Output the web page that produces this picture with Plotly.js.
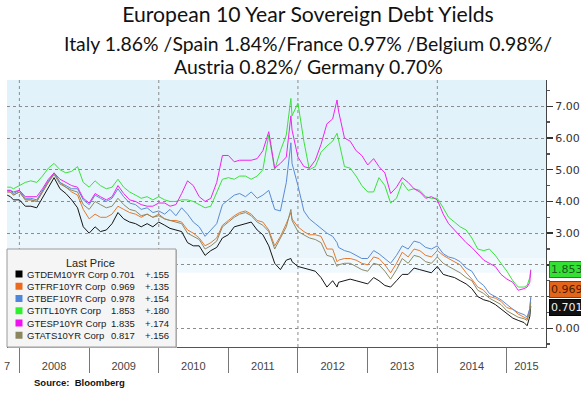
<!DOCTYPE html>
<html>
<head>
<meta charset="utf-8">
<script src="https://cdn.plot.ly/plotly-3.0.1.min.js"></script>
<style>html,body{margin:0;padding:0;background:#fff;}#chart{width:581px;height:393px;}</style>
</head>
<body>
<div id="chart"></div>
<script>
const dates = [
 '2007-10-29','2007-11-15','2007-12-01',
 '2008-01-01','2008-02-01','2008-03-01','2008-04-01','2008-05-01','2008-06-01','2008-07-01','2008-08-01','2008-09-01','2008-10-01','2008-11-01','2008-12-01',
 '2009-01-01','2009-02-01','2009-03-01','2009-04-01','2009-05-01','2009-06-01','2009-07-01','2009-08-01','2009-09-01','2009-10-01','2009-11-01','2009-12-01',
 '2010-01-01','2010-02-01','2010-03-01','2010-04-01','2010-05-01','2010-06-01','2010-07-01','2010-08-01','2010-09-01','2010-10-01','2010-11-01','2010-12-01',
 '2011-01-01','2011-02-01','2011-03-01','2011-04-01','2011-05-01','2011-06-01','2011-07-01','2011-08-01','2011-09-01','2011-10-01','2011-11-01','2011-11-25','2011-12-01',
 '2012-01-01','2012-02-01','2012-03-01','2012-04-01','2012-05-01','2012-06-01','2012-07-01','2012-07-24','2012-08-01','2012-09-01','2012-10-01','2012-11-01','2012-12-01',
 '2013-01-01','2013-02-01','2013-03-01','2013-04-01','2013-05-01','2013-06-01','2013-07-01','2013-08-01','2013-09-01','2013-10-01','2013-11-01','2013-12-01',
 '2014-01-01','2014-02-01','2014-03-01','2014-04-01','2014-05-01','2014-06-01','2014-07-01','2014-08-01','2014-09-01','2014-10-01','2014-11-01','2014-12-01',
 '2015-01-01','2015-02-01','2015-03-01','2015-04-01','2015-04-17','2015-05-01','2015-05-06'
];
const germany = [
 4.20,4.15,4.05,
 4.05,3.85,3.85,3.80,4.10,4.45,4.75,4.40,4.25,4.05,3.80,3.20,
 3.00,3.20,3.05,3.10,3.30,3.65,3.45,3.35,3.30,3.20,3.30,3.20,
 3.35,3.25,3.15,3.10,3.05,2.70,2.60,2.60,2.30,2.45,2.55,2.85,
 2.95,3.20,3.25,3.30,3.35,3.10,2.95,2.60,2.05,1.85,2.15,2.20,2.10,
 1.95,1.90,1.85,1.80,1.60,1.30,1.50,1.30,1.45,1.50,1.55,1.50,1.45,
 1.40,1.60,1.50,1.35,1.30,1.50,1.70,1.70,1.90,1.85,1.80,1.75,
 1.95,1.70,1.65,1.60,1.50,1.40,1.25,1.00,0.90,0.85,0.75,0.60,
 0.45,0.32,0.25,0.18,0.08,0.37,0.701
];
const france = [
 4.30,4.30,4.20,
 4.30,4.05,4.05,4.00,4.30,4.60,4.90,4.60,4.45,4.30,4.20,3.75,
 3.45,3.60,3.50,3.50,3.60,3.85,3.75,3.65,3.60,3.50,3.60,3.50,
 3.60,3.45,3.40,3.40,3.35,3.10,3.00,2.85,2.60,2.70,2.85,3.25,
 3.40,3.55,3.65,3.70,3.60,3.40,3.35,3.10,2.60,2.90,3.30,3.65,3.45,
 3.20,3.05,2.95,2.95,2.90,2.50,2.50,2.10,2.15,2.20,2.20,2.15,2.05,
 2.00,2.25,2.20,2.00,1.75,2.05,2.40,2.25,2.50,2.45,2.30,2.25,
 2.45,2.30,2.20,2.10,2.00,1.75,1.55,1.30,1.20,1.00,0.95,0.85,
 0.65,0.60,0.45,0.35,0.30,0.60,0.969
];
const belgium = [
 4.35,4.35,4.25,
 4.35,4.10,4.10,4.05,4.35,4.65,4.90,4.60,4.50,4.40,4.40,4.05,
 3.90,4.20,4.10,4.00,4.10,4.40,4.15,3.95,3.90,3.75,3.80,3.65,
 3.70,3.60,3.75,3.55,3.80,3.60,3.35,3.20,2.90,3.10,3.30,3.90,
 4.05,4.20,4.25,4.15,4.30,4.10,4.20,4.35,3.75,3.70,4.60,5.85,5.20,
 4.50,3.70,3.45,3.30,3.15,3.00,2.90,2.70,2.55,2.45,2.40,2.30,2.20,
 2.20,2.45,2.35,2.20,2.05,2.30,2.60,2.50,2.75,2.70,2.55,2.50,
 2.60,2.35,2.25,2.20,2.10,1.90,1.80,1.50,1.35,1.10,1.00,0.90,
 0.75,0.60,0.50,0.43,0.35,0.62,0.978
];
const italy = [
 4.45,4.45,4.40,
 4.50,4.60,4.65,4.60,4.80,5.05,5.20,5.00,4.90,4.95,5.10,4.60,
 4.45,4.65,4.50,4.40,4.45,4.70,4.45,4.30,4.20,4.10,4.15,4.05,
 4.15,4.05,4.00,4.00,4.05,4.05,4.00,3.90,3.80,3.85,4.30,4.70,
 4.75,4.70,4.80,4.80,4.70,4.80,5.00,6.10,5.00,5.60,6.10,7.25,6.70,
 7.10,5.90,5.00,5.10,5.55,5.75,5.90,6.15,5.95,5.10,5.05,4.80,4.50,
 4.30,4.30,4.75,4.50,3.95,4.10,4.60,4.35,4.40,4.35,4.15,4.10,
 4.10,3.80,3.50,3.35,3.20,3.10,2.85,2.50,2.45,2.50,2.30,2.05,
 1.80,1.50,1.30,1.30,1.35,1.60,1.853
];
const spain = [
 4.35,4.35,4.30,
 4.35,4.15,4.15,4.15,4.40,4.70,4.90,4.70,4.60,4.50,4.45,4.10,
 3.95,4.25,4.15,4.05,4.15,4.50,4.25,4.05,4.00,3.90,3.85,3.85,
 3.95,3.95,3.85,3.90,4.25,4.65,4.50,4.15,4.00,4.10,4.60,5.45,
 5.45,5.25,5.30,5.30,5.30,5.35,5.60,6.20,5.05,5.20,5.40,6.70,6.25,
 5.40,5.10,5.05,5.30,5.80,6.45,6.60,7.20,6.85,6.00,5.90,5.60,5.45,
 5.15,5.35,5.10,4.90,4.25,4.45,4.75,4.60,4.40,4.30,4.10,4.15,
 4.05,3.60,3.30,3.10,2.90,2.70,2.55,2.35,2.15,2.05,1.95,1.70,
 1.55,1.45,1.20,1.25,1.30,1.45,1.835
];
const austria = [
 4.30,4.30,4.20,
 4.30,4.05,4.05,4.00,4.30,4.60,4.85,4.55,4.45,4.35,4.30,3.90,
 3.75,4.00,3.90,3.80,3.85,4.10,3.90,3.75,3.70,3.55,3.60,3.50,
 3.55,3.45,3.40,3.35,3.30,3.00,2.90,2.80,2.50,2.60,2.75,3.20,
 3.35,3.50,3.60,3.65,3.55,3.35,3.25,3.05,2.50,2.85,3.20,3.75,3.40,
 3.05,2.95,2.85,2.80,2.70,2.30,2.25,1.95,2.00,2.05,2.05,1.95,1.85,
 1.80,2.05,2.00,1.80,1.55,1.85,2.20,2.05,2.30,2.25,2.10,2.05,
 2.25,2.05,1.95,1.85,1.75,1.60,1.50,1.20,1.10,0.95,0.85,0.75,
 0.55,0.45,0.35,0.30,0.25,0.50,0.817
];
const seriesNames = ['GTDEM10YR Corp','GTFRF10YR Corp','GTBEF10YR Corp','GTITL10YR Corp','GTESP10YR Corp','GTATS10YR Corp'];
const lastPrice = [0.701, 0.969, 0.978, 1.853, 1.835, 0.817];
const netChange = [0.155, 0.135, 0.154, 0.180, 0.174, 0.156];
const yearLabels = ['2008','2009','2010','2011','2012','2013','2014','2015'];
const yTicks = [0,1,2,3,4,5,6,7];
const yTickText = ['0.00','','','3.00','4.00','5.00','6.00','7.00'];

const seriesData = [germany, france, belgium, italy, spain, austria];
const lineColors = ['#151515','#e8782e','#5b8bd4','#3be23b','#f022f0','#8c8a66'];
const swatchColors = ['#000000','#ea6a1e','#4f86dc','#2ef02e','#f010f0','#8a8660'];

// geometry helpers (pixels -> paper)
const L = 7, R = 546, T = 80, B = 347;
const PW = R - L, PH = B - T;
const px = x => (x - L) / PW;
const py = y => (B - y) / PH;
const xStart = '2007-10-28', xEnd = '2015-07-25';

function midDate(a, b) {
  const ta = new Date(a + 'T00:00:00Z').getTime(), tb = new Date(b + 'T00:00:00Z').getTime();
  return new Date((ta + tb) / 2).toISOString().slice(0, 10);
}
const tickVals = yearLabels.map((yr, i) => i === yearLabels.length - 1 ? midDate(yr + '-01-01', xEnd) : yr + '-07-01');

const traces = seriesData.map((vals, i) => ({
  x: dates, y: vals, type: 'scatter', mode: 'lines',
  line: {color: lineColors[i], width: 1}, hoverinfo: 'skip', showlegend: false
}));

const shapes = [];
// light blue background bands
[[5.0, 7.83, '#e2f2fa'], [3.0, 5.0, '#e6f4fb'], [2.2, 3.0, '#eaf6fc'], [1.75, 2.2, '#f0f9fd']].forEach(b => {
  shapes.push({type: 'rect', xref: 'paper', yref: 'y', x0: 0, x1: 1, y0: b[0], y1: b[1], fillcolor: b[2], line: {width: 0}, layer: 'below'});
});
// vertical dotted grid every two years
['2008-01-01', '2010-01-01', '2012-01-01', '2014-01-01'].forEach(d => {
  shapes.push({type: 'line', xref: 'x', yref: 'paper', x0: d, x1: d, y0: 0, y1: 1, line: {color: '#8c8c8c', width: 1, dash: 'dot'}, layer: 'below'});
});
// legend box
shapes.push({type: 'rect', xref: 'paper', yref: 'paper', x0: px(8), x1: px(177), y0: py(348), y1: py(250), fillcolor: '#b8b8b8', line: {width: 0}, layer: 'above'});
shapes.push({type: 'rect', xref: 'paper', yref: 'paper', x0: px(7), x1: px(176), y0: py(347), y1: py(249), fillcolor: '#f5f5f5', line: {color: '#9a9a9a', width: 1}, layer: 'above'});

const annotations = [];
const rowY0 = 274, rowStep = 12.25;
annotations.push({xref: 'paper', yref: 'paper', x: px(90), y: py(262.5), xanchor: 'center', yanchor: 'middle', showarrow: false,
  text: 'Last Price', font: {family: 'Liberation Sans, Arial', size: 11, color: '#222'}});
seriesNames.forEach((nm, i) => {
  const ry = rowY0 + i * rowStep;
  shapes.push({type: 'rect', xref: 'paper', yref: 'paper', x0: px(15.5), x1: px(22.5), y0: py(ry + 3.5), y1: py(ry - 3.5), fillcolor: swatchColors[i], line: {width: 0}, layer: 'above'});
  const f = {family: 'Liberation Sans, Arial', size: 9.5, color: '#1a1a1a'};
  annotations.push({xref: 'paper', yref: 'paper', x: px(25), y: py(ry), xanchor: 'left', yanchor: 'middle', showarrow: false, text: nm, font: f});
  annotations.push({xref: 'paper', yref: 'paper', x: px(137), y: py(ry), xanchor: 'right', yanchor: 'middle', showarrow: false, text: lastPrice[i].toFixed(3), font: f});
  annotations.push({xref: 'paper', yref: 'paper', x: px(171), y: py(ry), xanchor: 'right', yanchor: 'middle', showarrow: false, text: '+' + netChange[i].toFixed(3).slice(1), font: f});
});

// subtitle lines
annotations.push({xref: 'paper', yref: 'paper', x: px(308), y: py(43), xanchor: 'center', yanchor: 'middle', showarrow: false,
  text: 'Italy 1.86% /Spain 1.84%/France 0.97% /Belgium 0.98%/', font: {family: 'Lato', size: 19.4, color: '#111'}});
annotations.push({xref: 'paper', yref: 'paper', x: px(308), y: py(66), xanchor: 'center', yanchor: 'middle', showarrow: false,
  text: 'Austria 0.82%/ Germany 0.70%', font: {family: 'Lato', size: 19.4, color: '#111'}});
// source
annotations.push({xref: 'paper', yref: 'paper', x: px(32), y: py(383), xanchor: 'left', yanchor: 'middle', showarrow: false,
  text: '<b>Source:\u00a0 Bloomberg</b>', font: {family: 'Liberation Sans, Arial', size: 9.5, color: '#111'}});
// remnant of the 2007 label at the far left
annotations.push({xref: 'paper', yref: 'paper', x: px(12), y: py(366), xanchor: 'right', yanchor: 'middle', showarrow: false,
  text: '7', font: {family: 'Liberation Sans, Arial', size: 11, color: '#444'}});

// last value tags on the right axis
const tagDefs = [
  {i: 3, bg: '#33e033', border: '#1c8a1c', fc: '#1d5a1d', shift: 0},
  {i: 1, bg: '#e2651c', border: '#8a3a08', fc: '#4a2000', shift: 8},
  {i: 0, bg: '#111111', border: '#000000', fc: '#f0f0f0', shift: -1}
];
tagDefs.forEach(t => {
  annotations.push({xref: 'paper', yref: 'y', x: 1, y: lastPrice[t.i], xanchor: 'left', yanchor: 'middle', xshift: 3, yshift: t.shift,
    showarrow: false, text: lastPrice[t.i].toFixed(3), bgcolor: t.bg, bordercolor: t.border, borderwidth: 1, borderpad: 1,
    font: {family: 'DejaVu Sans', size: 11, color: t.fc}});
});

const layout = {
  width: 581, height: 393,
  margin: {l: L, r: 581 - R, t: T, b: 393 - B, pad: 0},
  paper_bgcolor: '#ffffff', plot_bgcolor: '#ffffff',
  showlegend: false,
  title: {text: 'European 10 Year Sovereign Debt Yields', font: {family: 'Lato', size: 21.2, color: '#111'},
    x: 308 / 581, xanchor: 'center', xref: 'container', y: 1 - 15 / 393, yanchor: 'middle', yref: 'container'},
  xaxis: {
    type: 'date', range: [xStart, xEnd], tickmode: 'array', tickvals: tickVals, ticktext: yearLabels,
    ticks: '', showgrid: false, zeroline: false, showline: true, linecolor: '#555', linewidth: 1,
    tickfont: {family: 'Liberation Sans, Arial', size: 11, color: '#444'}, ticklabelstandoff: 9,
    minor: {tickmode: 'linear', tick0: '2008-01-01', dtick: 'M12', ticks: 'outside', ticklen: 25, tickcolor: '#777', tickwidth: 1, showgrid: false}
  },
  yaxis: {
    side: 'right', range: [-0.59, 7.83], tickmode: 'array', tickvals: yTicks, ticktext: yTickText,
    showgrid: true, gridcolor: '#8c8c8c', griddash: 'dot', gridwidth: 1, zeroline: false,
    ticks: 'outside', ticklen: 6, tickwidth: 1.5, tickcolor: '#333', showline: true, linecolor: '#444', linewidth: 1,
    tickfont: {family: 'DejaVu Sans', size: 11, color: '#333'},
    minor: {tickmode: 'linear', tick0: 0.5, dtick: 1, ticks: 'outside', ticklen: 3, tickcolor: '#555', showgrid: false}
  },
  shapes: shapes,
  annotations: annotations
};

Plotly.newPlot('chart', traces, layout, {displayModeBar: false, staticPlot: true});
</script>
</body>
</html>
